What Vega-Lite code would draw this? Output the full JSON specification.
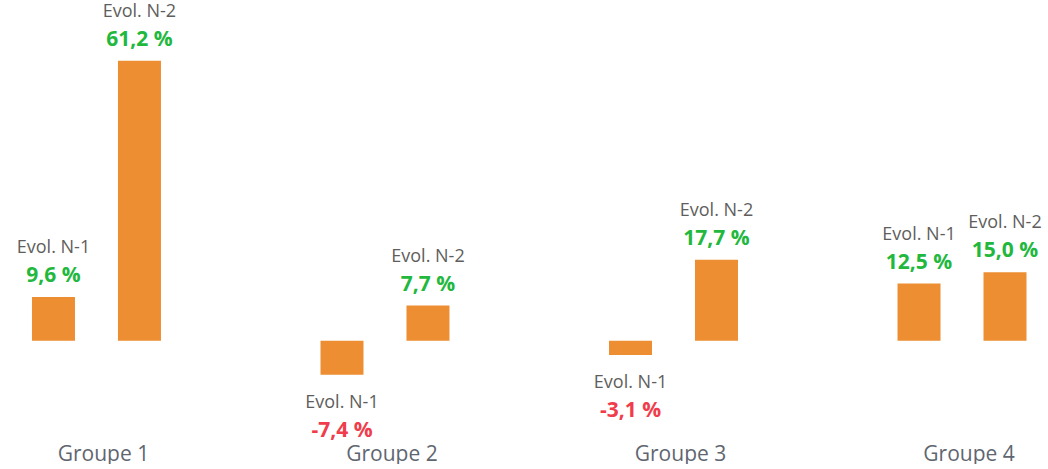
{
  "$schema": "https://vega.github.io/schema/vega-lite/v6.json",
  "width": 1048,
  "height": 430,
  "padding": 0,
  "background": "white",
  "config": {
    "view": {"stroke": null},
    "locale": {"number": {"decimal": ",", "thousands": " ", "grouping": [3], "currency": ["", " €"], "percent": " %", "minus": "-"}}
  },
  "data": {"values": [
    {"groupe": "Groupe 1", "serie": "Evol. N-1", "value": 0.096},
    {"groupe": "Groupe 1", "serie": "Evol. N-2", "value": 0.612},
    {"groupe": "Groupe 2", "serie": "Evol. N-1", "value": -0.074},
    {"groupe": "Groupe 2", "serie": "Evol. N-2", "value": 0.077},
    {"groupe": "Groupe 3", "serie": "Evol. N-1", "value": -0.031},
    {"groupe": "Groupe 3", "serie": "Evol. N-2", "value": 0.177},
    {"groupe": "Groupe 4", "serie": "Evol. N-1", "value": 0.125},
    {"groupe": "Groupe 4", "serie": "Evol. N-2", "value": 0.150}
  ]},
  "encoding": {
    "x": {"field": "groupe", "type": "nominal",
      "scale": {"paddingInner": 0.553, "paddingOuter": 0.0927, "align": 0.598},
      "axis": {"title": null, "domain": false, "ticks": false, "grid": false, "labelAngle": 0, "labelPadding": 13, "labelOffset": 7, "labelFont": "Open Sans", "labelFontSize": 21, "labelColor": "#5f6670"}},
    "xOffset": {"field": "serie", "type": "nominal", "scale": {"paddingInner": 0.5, "paddingOuter": 0}},
    "y": {"field": "value", "type": "quantitative", "scale": {"domain": [-0.195, 0.745], "nice": false, "zero": false}, "axis": null}
  },
  "layer": [
    {"mark": {"type": "bar", "color": "#ec8e31"}},
    {"transform": [{"filter": "datum.value > 0"}],
     "mark": {"type": "text", "dy": -49, "baseline": "middle", "font": "Open Sans", "fontSize": 18, "color": "#605e5c"},
     "encoding": {"text": {"field": "serie"}}},
    {"transform": [{"filter": "datum.value > 0"}],
     "mark": {"type": "text", "dy": -21, "baseline": "middle", "font": "Open Sans", "fontSize": 21, "fontWeight": "bold", "color": "#22b83e"},
     "encoding": {"text": {"field": "value", "type": "quantitative", "format": ".1%"}}},
    {"transform": [{"filter": "datum.value < 0"}],
     "mark": {"type": "text", "dy": 28, "baseline": "middle", "font": "Open Sans", "fontSize": 18, "color": "#605e5c"},
     "encoding": {"text": {"field": "serie"}}},
    {"transform": [{"filter": "datum.value < 0"}],
     "mark": {"type": "text", "dy": 56, "baseline": "middle", "font": "Open Sans", "fontSize": 21, "fontWeight": "bold", "color": "#f03c4b"},
     "encoding": {"text": {"field": "value", "type": "quantitative", "format": ".1%"}}}
  ]
}
